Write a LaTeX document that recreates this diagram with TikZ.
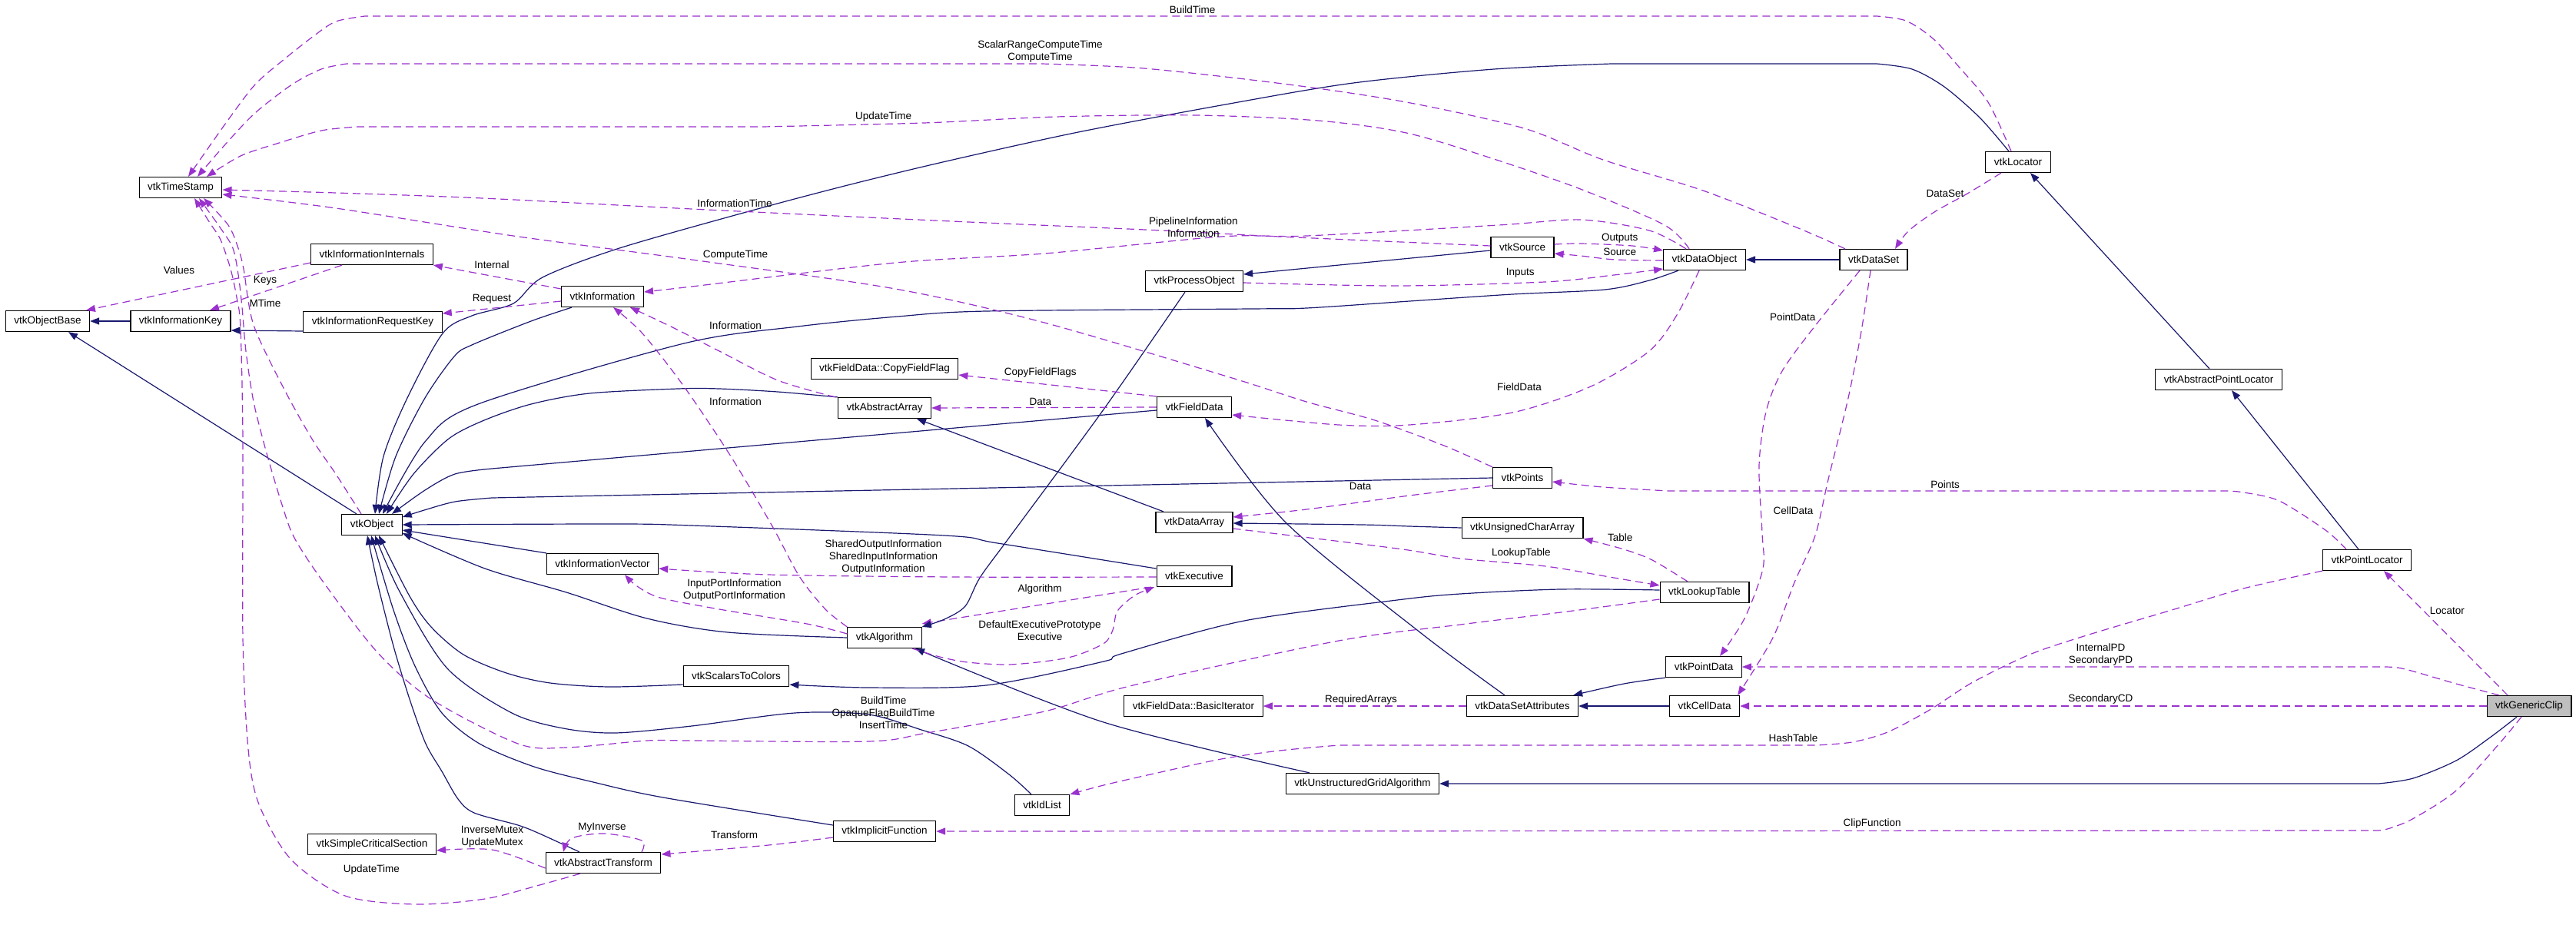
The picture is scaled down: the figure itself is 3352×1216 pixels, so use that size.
\documentclass[tikz,border=0pt]{standalone}
\usepackage{fontspec}
\setmainfont{Liberation Sans}
\usetikzlibrary{arrows.meta}
\definecolor{inhc}{HTML}{191970}
\definecolor{depc}{HTML}{9A32CD}
\begin{document}
\begin{tikzpicture}[x=1pt,y=-1pt,font=\fontsize{13.5pt}{16pt}\selectfont,
  cls/.style={draw=black,line width=1.2pt,minimum height=27pt,inner xsep=11pt,inner ysep=0pt,fill=white},
  inh/.style={draw=inhc,line width=1.2pt,-{Triangle[length=12pt,width=9pt]}},
  dep/.style={draw=depc,line width=1.2pt,dash pattern=on 10pt off 6pt,-{Triangle[length=12pt,width=9pt]}},
  lbl/.style={inner sep=0pt,align=center,text=black}]
\useasboundingbox (0,0) rectangle (3352,1216);
\fill[white] (0,0) rectangle (3352,1216);
% classes
\node[cls] (ts) at (235,244) {vtkTimeStamp};
\node[cls] (iint) at (484,331) {vtkInformationInternals};
\node[cls] (objbase) at (62,418) {vtkObjectBase};
\node[cls] (ikey) at (235,418) {vtkInformationKey};
\node[cls] (ireq) at (485,419) {vtkInformationRequestKey};
\node[cls] (info) at (784,386) {vtkInformation};
\node[cls] (obj) at (484,683) {vtkObject};
\node[cls] (ivec) at (784,734) {vtkInformationVector};
\node[cls] (s2c) at (958,880) {vtkScalarsToColors};
\node[cls] (scs) at (484,1099) {vtkSimpleCriticalSection};
\node[cls] (atr) at (785,1123) {vtkAbstractTransform};
\node[cls] (src) at (1981,322) {vtkSource};
\node[cls] (po) at (1554,366) {vtkProcessObject};
\node[cls] (cff) at (1151,480) {vtkFieldData::CopyFieldFlag};
\node[cls] (aarr) at (1151,531) {vtkAbstractArray};
\node[cls] (fd) at (1554,530) {vtkFieldData};
\node[cls] (pts) at (1981,622) {vtkPoints};
\node[cls] (darr) at (1554,680) {vtkDataArray};
\node[cls] (ucarr) at (1981,687) {vtkUnsignedCharArray};
\node[cls] (exe) at (1554,750) {vtkExecutive};
\node[cls] (alg) at (1151,830) {vtkAlgorithm};
\node[cls] (bit) at (1553,919) {vtkFieldData::BasicIterator};
\node[cls] (dsa) at (1981,919) {vtkDataSetAttributes};
\node[cls] (uga) at (1773,1020) {vtkUnstructuredGridAlgorithm};
\node[cls] (idl) at (1356,1048) {vtkIdList};
\node[cls] (ifn) at (1151,1082) {vtkImplicitFunction};
\node[cls] (loc) at (2626,211) {vtkLocator};
\node[cls] (dobj) at (2218,338) {vtkDataObject};
\node[cls] (dset) at (2438,338) {vtkDataSet};
\node[cls] (apl) at (2887,494) {vtkAbstractPointLocator};
\node[cls] (ploc) at (3080,729) {vtkPointLocator};
\node[cls] (lut) at (2218,771) {vtkLookupTable};
\node[cls] (pdat) at (2217,868) {vtkPointData};
\node[cls] (cdat) at (2218,919) {vtkCellData};
\node[cls,fill=gray!50] (gc) at (3291,919) {vtkGenericClip};
% usage edge hidden under the inheritance tip
\draw[dep] ([xshift=-56pt]exe.south) -- ([yshift=4pt]alg.north east);
% inheritance
\draw[inh] (ikey.west) -- (objbase.east);
\draw[inh] ([yshift=-12pt]ireq.west) -- ([yshift=-12pt]ikey.east);
\draw[inh] ([xshift=-20pt]obj.north) -- ([xshift=27pt]objbase.south);
\draw[inh] plot[smooth] coordinates {([xshift=-12pt]loc.north) (2576,153) (2530,113) (2488,90) (2442,83)} -- plot[smooth] coordinates {(2097,83) (1944,90) (1761,108) (1600,135) (1403,172) (1231,210) (1107,240) (982,273) (806,323) (706,361) (668,395) (614,411) (576,434) (530,518) (499,594) ([xshift=4pt]obj.north)};
\draw[inh] plot[smooth] coordinates {([xshift=-40pt]info.south) (691,418) (614,449) (591,464) (553,518) (515,594) ([xshift=9pt]obj.north)};
\draw[inh] plot[smooth] coordinates {([xshift=-34pt]dobj.south) (2146,365) (2088,377) (1968,383) (1834,392) (1700,401) (1627,402) (1283,405) (1168,412) (1038,425) (890,447) (622,526) (553,575) ([xshift=14pt]obj.north)};
\draw[inh] plot[smooth] coordinates {(aarr.north west) (1012,510) (936,506) (882,506) (767,512) (691,526) (630,547) (584,571) (538,617) ([xshift=19pt]obj.north)};
\draw[inh] ([yshift=-4pt]fd.west) -- plot[smooth] coordinates {(640,610) (592,617) (553,638) ([xshift=26pt]obj.north)};
\draw[inh] (pts.west) -- plot[smooth] coordinates {(640,648) (592,653) (552,664) ([yshift=10pt]obj.east)};
\draw[inh] plot[smooth] coordinates {([yshift=10pt]exe.west) (1298,707) (1229,697) (900,684) (798,682) (obj.east)};
\draw[inh] (ivec.north west) -- ([yshift=-7pt]obj.east);
\draw[inh] plot[smooth] coordinates {(alg.west) (947,823) (842,805) (737,771) (631,740) ([yshift=-11pt]obj.east)};
\draw[inh] plot[smooth] coordinates {([yshift=-11pt]s2c.west) (793,894) (716,889) (659,876) (603,852) (561,816) (533,776) ([xshift=9pt]obj.south)};
\draw[inh] plot[smooth] coordinates {([xshift=-14pt]idl.north) (1313,1008) (1260,971) (1199,950) (1130,930) (1034,928) (900,945) (800,954) (733,948) (666,928) (582,870) (520,770) ([xshift=4pt]obj.south)};
\draw[inh] plot[smooth] coordinates {([yshift=8pt]ifn.west) (863,1038) (772,1018) (695,998) (624,968) (575,928) (540,867) (512,794) ([xshift=-1pt]obj.south)};
\draw[inh] plot[smooth] coordinates {([xshift=-31pt]atr.north) (702,1085) (674,1074) (617,1058) (596,1040) (575,1004) (554,968) (533,910) (512,841) (491,758) ([xshift=-6pt]obj.south)};
\draw[inh] plot[smooth] coordinates {([xshift=-12pt]po.south) (1436,533) (1313,700) (1275,752) (1256,789) (1229,806) (alg.north east)};
\draw[inh] ([yshift=-4pt]src.west) -- ([yshift=9pt]po.east);
\draw[inh] (dset.west) -- (dobj.east);
\draw[inh] ([xshift=-12pt]apl.north) -- ([xshift=16pt]loc.south);
\draw[inh] ([xshift=-11pt]ploc.north) -- ([xshift=17pt]apl.south);
\draw[inh] ([xshift=-40pt]darr.north) -- ([xshift=42pt]aarr.south);
\draw[inh] plot[smooth] coordinates {(ucarr.west) (1834,685) (1772,683) ([yshift=-1pt]darr.east)};
\draw[inh] plot[smooth] coordinates {([xshift=-23pt]dsa.north) (1849,824) (1673,680) ([xshift=14pt]fd.south)};
\draw[inh] plot[smooth] coordinates {(pdat.south west) (2113,890) ([xshift=-7pt]dsa.north east)};
\draw[inh] (cdat.west) -- (dsa.east);
\draw[inh] plot[smooth] coordinates {([yshift=3pt]lut.west) (2030,767) (1900,773) (1818,781) (1619,808) (1459,851) (1436,861) (1283,892) (1130,895) ([yshift=-11pt]s2c.east)};
\draw[inh] plot[smooth] coordinates {([xshift=-69pt]uga.north) (1436,940) ([xshift=40pt]alg.south)};
\draw[inh] plot[smooth] coordinates {([xshift=-16pt]gc.south) (3240,960) (3196,990) (3140,1013) (3095,1020)} -- (uga.east);
% usage
\draw[dep] plot[smooth] coordinates {([xshift=-9pt]loc.north) (2587,133) (2549,87) (2515,50) (2480,27) (2442,21)} -- plot[smooth] coordinates {(475,21) (437,28) (408,47) (370,77) (332,110) (294,160) ([xshift=10pt]ts.north)};
\draw[dep] plot[smooth] coordinates {([xshift=-37pt]dset.north) (2345,299) (2216,248) (2086,208) (1983,167) (1830,133) (1677,110) (1489,89) (1355,83)} -- plot[smooth] coordinates {(451,83) (418,90) (380,110) (332,147) (294,187) ([xshift=22pt]ts.north)};
\draw[dep] plot[smooth] coordinates {([xshift=-20pt]dobj.north) (2166,293) (2059,247) (1944,207) (1830,173) (1715,157) (1556,150) (1374,152) (1202,160) (992,165)} -- plot[smooth] coordinates {(466,165) (418,170) (360,187) (313,203) ([xshift=34pt]ts.north)};
\draw[dep] plot[smooth] coordinates {([yshift=2pt]src.west) (1665,308) (1512,300) (1283,290) (1130,283) (900,272) (628,258) (437,251) ([yshift=-3pt]ts.east)};
\draw[dep] plot[smooth] coordinates {(pts.north west) (1879,580) (1789,547) (1700,523) (1600,491) (1359,420) (1165,376) (900,338) (668,307) (437,271) ([yshift=-9pt]ts.east)};
\draw[dep] plot[smooth] coordinates {([xshift=-14pt]obj.north) (437,617) (407,573) (370,507) (330,423) (317,350) (310,323) (297,293) ([xshift=30pt]ts.south)};
\draw[dep] plot[smooth] coordinates {([xshift=-30pt]atr.south) (702,1152) (631,1170) (540,1177) (449,1166) (379,1119) (337,1047) (323,975) (316,830) (316,573) (313,427) (308,387) (300,350) (287,312) (273,290) ([xshift=18pt]ts.south)};
\draw[dep] plot[smooth] coordinates {([yshift=-9pt]lut.west) (2039,796) (1900,813) (1742,834) (1474,892) (1359,926) (1206,954) (1130,965) (900,964) (842,964) (737,973) (674,968) (561,910) (491,849) (421,758) (383,700) (367,657) (347,590) (330,523) (320,457) (315,400) (310,357) (303,323) (287,297) ([xshift=24pt]ts.south)};
\draw[dep] ([xshift=-39pt]iint.south) -- ([xshift=38pt]ikey.north);
\draw[dep] ([yshift=-11pt]iint.west) -- ([xshift=50pt]objbase.north);
\draw[dep] ([yshift=10pt]info.west) -- (iint.south east);
\draw[dep] ([yshift=-6pt]info.west) -- ([yshift=11pt]ireq.east);
\draw[dep] plot[smooth] coordinates {([xshift=-24pt]dobj.north) (2146,300) (2057,286) (1950,293) (1700,307) (1589,308) (1359,330) (1165,342) (900,373) ([yshift=6pt]info.east)};
\draw[dep] plot[smooth] coordinates {([xshift=-3pt]aarr.north west) (1012,495) (936,457) (875,426) ([xshift=36pt]info.south)};
\draw[dep] plot[smooth] coordinates {(alg.north west) (1074,793) (1040,750) (1005,685) (951,594) (890,503) (836,434) ([xshift=14pt]info.south)};
\draw[dep] plot[smooth] coordinates {([yshift=-1pt]exe.west) (1242,751) (1000,748) ([yshift=-6pt]ivec.east)};
\draw[dep] plot[smooth] coordinates {([yshift=5pt]alg.west) (1050,812) (936,793) (859,778) (829,763) ([xshift=29pt]ivec.south)};
\draw[dep] plot[smooth] coordinates {([xshift=36pt]alg.south) (1223,855) (1259,862) (1312,865) (1366,860) (1401,853) (1437,837) (1448,820) (1453,797) (1466,783) (1480,773) ([xshift=-52pt]exe.south)};
\draw[dep] (fd.north west) -- ([yshift=-8pt]cff.east);
\draw[dep] (fd.west) -- (aarr.east);
\draw[dep] plot[smooth] coordinates {([xshift=-7pt]dobj.south) (2182,410) (2146,457) (2070,503) (1968,537) (1834,553) (1742,553) ([yshift=-10pt]fd.east)};
\draw[dep] plot[smooth] coordinates {([yshift=-10pt]pts.west) (1834,645) (1700,663) ([yshift=7pt]darr.east)};
\draw[dep] plot[smooth] coordinates {([xshift=-22pt]lut.north) (2150,729) (2113,715) (ucarr.south east)};
\draw[dep] plot[smooth] coordinates {([yshift=-8pt]darr.east) (1818,714) (1900,727) (2011,737) (2100,752) ([yshift=9pt]lut.west)};
\draw[dep] plot[smooth] coordinates {([yshift=4pt]src.east) (2057,317) (2124,320) ([yshift=12pt]dobj.west)};
\draw[dep] plot[smooth] coordinates {([yshift=-1pt]dobj.west) (2102,338) (2057,333) ([yshift=-8pt]src.east)};
\draw[dep] plot[smooth] coordinates {([yshift=-2pt]po.east) (1818,372) (2010,367) (2100,358) ([yshift=-12pt]dobj.west)};
\draw[dep] plot[smooth] coordinates {([xshift=-22pt]loc.south) (2560,252) (2517,276) (2483,301) ([xshift=28pt]dset.north)};
\draw[dep] plot[smooth] coordinates {([xshift=-18pt]dset.south) (2362,424) (2319,483) (2298,536) (2289,606) (2293,694) (2294,740) (2270,805) ([xshift=21pt]pdat.north)};
\draw[dep] plot[smooth] coordinates {([xshift=-4pt]dset.south) (2422,431) (2405,518) (2379,624) (2362,697) (2335,758) (2307,830) ([xshift=-3pt]cdat.north east)};
\draw[dep] plot[smooth] coordinates {([xshift=-27pt]ploc.north) (3026,690) (2966,652) (2920,641) (2897,639)} -- plot[smooth] coordinates {(2172,639) (2086,634) ([yshift=-5pt]pts.east)};
\draw[dep] plot[smooth] coordinates {(ploc.south west) (2919,766) (2826,794) (2715,827) (2641,852) (2567,888) (2511,924) (2456,953) (2410,966) (2363,970)} -- plot[smooth] coordinates {(1742,970) (1665,977) (1589,988) (1497,1008) (1436,1022) (idl.north east)};
\draw[dep] plot[smooth] coordinates {([xshift=-39pt]gc.north) (3196,890) (3141,874) (3120,869) (3104,868)} -- (pdat.east);
\draw[dep] (gc.west) -- (cdat.east);
\draw[dep] ([xshift=-28pt]gc.north) -- ([xshift=22pt]ploc.south);
\draw[dep] plot[smooth] coordinates {([xshift=-10pt]gc.south) (3252,968) (3196,1029) (3141,1065) (3110,1078) (3095,1081)} -- (ifn.east);
\draw[dep] plot[smooth] coordinates {([xshift=50pt]atr.north) (835,1094) (786,1085) (744,1091) ([xshift=-52pt]atr.north)};
\draw[dep] plot[smooth] coordinates {([yshift=-7pt]atr.west) (640,1106) ([yshift=-8pt]scs.east)};
\draw[dep] plot[smooth] coordinates {([yshift=-8pt]ifn.west) (1000,1100) ([yshift=11pt]atr.east)};
\draw[dep] (dsa.west) -- (bit.east);
% labels
\node[lbl] (l1) at (1551.5,12.7) {BuildTime};
\node[lbl] (l2) at (1353.5,67) {ScalarRangeComputeTime\\ComputeTime};
\node[lbl] (l3) at (1149.7,151.7) {UpdateTime};
\node[lbl] (l4) at (956,265) {InformationTime};
\node[lbl] (l5) at (1552.8,296) {PipelineInformation\\Information};
\node[lbl] (l6) at (957,331.6) {ComputeTime};
\node[lbl] (l7) at (233,351.7) {Values};
\node[lbl] (l8) at (345,365) {Keys};
\node[lbl] (l9) at (345,394.3) {MTime};
\node[lbl] (l10) at (640,345) {Internal};
\node[lbl] (l11) at (640,389) {Request};
\node[lbl] (l12) at (957,424) {Information};
\node[lbl] (l13) at (1353.8,485) {CopyFieldFlags};
\node[lbl] (l14) at (1353.8,522.7) {Data};
\node[lbl] (l15) at (957,522.8) {Information};
\node[lbl] (l16) at (1977,503.5) {FieldData};
\node[lbl] (l17) at (2107.8,310.6) {Outputs};
\node[lbl] (l18) at (2107.8,327.8) {Source};
\node[lbl] (l19) at (1978.3,355) {Inputs};
\node[lbl] (l20) at (2531,251.7) {DataSet};
\node[lbl] (l21) at (2332.8,412.4) {PointData};
\node[lbl] (l22) at (2531,630.5) {Points};
\node[lbl] (l23) at (1770,632.7) {Data};
\node[lbl] (l24) at (2333.4,664.7) {CellData};
\node[lbl] (l25) at (2108.3,699.8) {Table};
\node[lbl] (l26) at (1979.3,719.7) {LookupTable};
\node[lbl] (l27) at (1149.5,724.8) {SharedOutputInformation\\SharedInputInformation\\OutputInformation};
\node[lbl] (l28) at (1353,766.8) {Algorithm};
\node[lbl] (l29) at (955.5,767.5) {InputPortInformation\\OutputPortInformation};
\node[lbl] (l30) at (3184.4,794.8) {Locator};
\node[lbl] (l31) at (1353,820.6) {DefaultExecutivePrototype\\Executive};
\node[lbl] (l32) at (2733.4,851.7) {InternalPD\\SecondaryPD};
\node[lbl] (l33) at (2733.4,910) {SecondaryCD};
\node[lbl] (l34) at (1770.9,911) {RequiredArrays};
\node[lbl] (l35) at (1149.5,927.7) {BuildTime\\OpaqueFlagBuildTime\\InsertTime};
\node[lbl] (l36) at (2333.4,960.5) {HashTable};
\node[lbl] (l37) at (2436,1072.4) {ClipFunction};
\node[lbl] (l38) at (783.6,1077) {MyInverse};
\node[lbl] (l39) at (640.5,1089) {InverseMutex\\UpdateMutex};
\node[lbl] (l40) at (955.5,1086.8) {Transform};
\node[lbl] (l41) at (483.3,1132) {UpdateTime};
\end{tikzpicture}
\end{document}
